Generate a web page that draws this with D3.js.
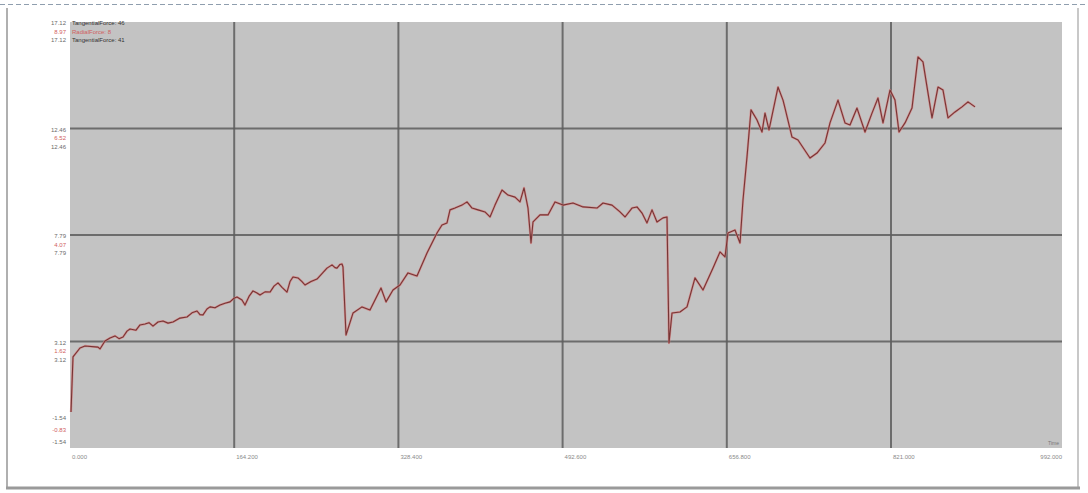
<!DOCTYPE html>
<html>
<head>
<meta charset="utf-8">
<script src="https://cdn.jsdelivr.net/npm/d3@7"></script>
<style>
  html, body { margin: 0; padding: 0; background: #fff; }
  svg { display: block; font-family: "Liberation Sans", Arial, sans-serif; }
</style>
</head>
<body>
<svg id="chart" width="1088" height="493"></svg>
<script>
// Force trace over time (seconds)
const timeValues = [1, 3, 10, 15, 28, 30, 35, 40, 45, 49, 53, 57, 60, 66, 70, 75, 79, 83, 88, 93, 98, 103, 110, 117, 122, 127, 130, 133, 137, 140, 145, 150, 155, 160, 164, 167, 172, 175, 179, 183, 187, 190, 195, 200, 204, 208, 212, 217, 220, 223, 228, 232, 235, 241, 247, 252, 257, 262, 265, 267, 270, 272, 273,
  276, 283, 292, 300, 311, 316, 323, 330, 338, 347, 357, 367, 372, 377, 380, 385, 392, 397, 402, 408, 415, 420, 425, 432, 438, 445, 450, 454, 458, 461, 463, 470, 478, 485, 493, 503, 513, 527, 533, 542, 550, 555, 562, 567, 572, 577, 582, 587, 593, 597,
  599, 602, 610, 617, 625, 633, 643, 650, 655, 658, 665, 670, 673, 677, 681, 687, 692, 695, 699, 708, 713, 715, 722, 728, 740, 747, 755, 760, 768, 775, 780, 787, 795, 802, 808, 813, 820, 825, 829, 835, 842, 848, 853, 862, 868, 873, 878, 885, 892, 898, 905];
const forceValues = [0.04, 2.45, 2.84, 2.93, 2.88, 2.80, 3.15, 3.28, 3.37, 3.25, 3.32, 3.58, 3.67, 3.62, 3.85, 3.89, 3.95, 3.80, 3.98, 4.02, 3.93, 3.98, 4.15, 4.20, 4.38, 4.46, 4.30, 4.29, 4.55, 4.64, 4.60, 4.72, 4.80, 4.86, 5.02, 5.07, 4.94, 4.72, 5.10, 5.34, 5.25, 5.16, 5.30, 5.29, 5.55, 5.69, 5.50, 5.29, 5.75, 5.95, 5.91, 5.75, 5.60, 5.75, 5.86, 6.10, 6.34, 6.48, 6.36, 6.34, 6.50, 6.52, 6.39,
  3.41, 4.37, 4.64, 4.50, 5.47, 4.86, 5.38, 5.60, 6.13, 5.99, 7.00, 7.88, 8.23, 8.32, 8.89, 8.97, 9.10, 9.24, 8.97, 8.89, 8.80, 8.58, 9.10, 9.76, 9.54, 9.45, 9.24, 9.85, 8.97, 7.44, 8.36, 8.67, 8.67, 9.24, 9.10, 9.19, 9.02, 8.97, 9.19, 9.10, 8.80, 8.58, 8.97, 9.02, 8.75, 8.32, 8.89, 8.36, 8.54, 8.58,
  3.06, 4.37, 4.42, 4.64, 5.91, 5.38, 6.34, 7.05, 6.83, 7.88, 8.01, 7.44, 9.32, 11.21, 13.27, 12.83, 12.30, 13.13, 12.39, 14.27, 13.70, 13.35, 12.08, 11.95, 11.16, 11.38, 11.82, 12.70, 13.70, 12.70, 12.61, 13.35, 12.30, 13.13, 13.79, 12.70, 14.14, 13.70, 12.30, 12.70, 13.35, 15.59, 15.37, 12.92, 14.27, 14.14, 12.92, 13.18, 13.40, 13.62, 13.40];

const legendLabels = ["TangentialForce: 46", "RadialForce: 8", "TangentialForce: 41"];
const tickValuesY = [-1.54, 3.125, 7.79, 12.455, 17.12];
const tickLabelsA = ["-1.54", "3.12", "7.79", "12.46", "17.12"];
const tickLabelsB = ["-0.83", "1.62", "4.07", "6.52", "8.97"];
const tickLabelsC = ["-1.54", "3.12", "7.79", "12.46", "17.12"];
const tickValuesX = [0, 164.2, 328.4, 492.6, 656.8, 821.0];
const tickLabelsX = ["0.000", "164.200", "328.400", "492.600", "656.800", "821.000"];
const xEndLabel = "992.000";
const xAxisTitle = "Time";

const data = timeValues.map((t, i) => ({ t, f: forceValues[i] }));

const svg = d3.select("#chart");
const plot = { left: 70, right: 1062, top: 22, bottom: 448 };

const x = d3.scaleLinear().domain([0, 992]).range([plot.left, plot.right]);
const y = d3.scaleLinear().domain([-1.54, 17.12]).range([plot.bottom, plot.top]);

// page frame
svg.append("line").attr("x1", 0).attr("x2", 1088).attr("y1", 4.5).attr("y2", 4.5)
  .attr("stroke", "#8f9eae").attr("stroke-width", 1.2).attr("stroke-dasharray", "5,3");
svg.append("line").attr("x1", 7).attr("x2", 7).attr("y1", 8).attr("y2", 488)
  .attr("stroke", "#b0b0b0").attr("stroke-width", 2);
svg.append("line").attr("x1", 1078).attr("x2", 1078).attr("y1", 8).attr("y2", 488)
  .attr("stroke", "#c8c8c8").attr("stroke-width", 2);
svg.append("line").attr("x1", 6).attr("x2", 1080).attr("y1", 488).attr("y2", 488)
  .attr("stroke", "#9a9a9a").attr("stroke-width", 3);

// plot background
svg.append("rect")
  .attr("x", plot.left).attr("y", plot.top)
  .attr("width", plot.right - plot.left).attr("height", plot.bottom - plot.top)
  .attr("fill", "#c3c3c3");

// grid
const gridY = tickValuesY.slice(1, -1);
svg.append("g").selectAll("line").data(gridY).join("line")
  .attr("x1", plot.left).attr("x2", plot.right)
  .attr("y1", d => y(d)).attr("y2", d => y(d))
  .attr("stroke", "#5e5e5e").attr("stroke-width", 2).attr("opacity", 0.85);
svg.append("g").selectAll("line").data(tickValuesX.slice(1)).join("line")
  .attr("x1", d => x(d)).attr("x2", d => x(d))
  .attr("y1", plot.top).attr("y2", plot.bottom)
  .attr("stroke", "#5e5e5e").attr("stroke-width", 2).attr("opacity", 0.85);

// y tick labels: three stacked scales per grid level
const labelSets = [
  { labels: tickLabelsA, color: "#6a6a6a" },
  { labels: tickLabelsB, color: "#d06060" },
  { labels: tickLabelsC, color: "#6a6a6a" }
];
const yLab = svg.append("g").attr("font-size", 6).attr("text-anchor", "end");
tickValuesY.forEach((v, i) => {
  const py = y(v);
  const last = i === 0;
  labelSets.forEach((s, k) => {
    const off = last ? (-28 + k * 12) : (3 + k * 8.5);
    yLab.append("text")
      .attr("x", 66).attr("y", py + off)
      .attr("fill", s.color)
      .text(s.labels[i]);
  });
});

// legend
const leg = svg.append("g").attr("font-size", 6);
legendLabels.forEach((l, k) => {
  leg.append("text")
    .attr("x", 72).attr("y", 25 + k * 8.5)
    .attr("fill", k === 1 ? "#d06060" : "#333")
    .text(l);
});

// x tick labels
const xLab = svg.append("g").attr("font-size", 6).attr("fill", "#8a8a8a");
xLab.selectAll("text").data(tickValuesX).join("text")
  .attr("x", d => x(d) + 2).attr("y", 459)
  .text((d, i) => tickLabelsX[i]);
xLab.append("text").attr("x", plot.right).attr("y", 459).attr("text-anchor", "end").text(xEndLabel);
svg.append("text").attr("x", plot.right - 3).attr("y", 445).attr("text-anchor", "end")
  .attr("font-size", 5).attr("fill", "#777").text(xAxisTitle);

// force trace: red radial trace under the darker tangential trace
const line = d3.line().x(d => x(d.t)).y(d => y(d.f));
svg.append("path").datum(data)
  .attr("d", line).attr("fill", "none")
  .attr("stroke", "#d88080").attr("stroke-width", 2.3).attr("stroke-linejoin", "round").attr("opacity", 0.75);
svg.append("path").datum(data)
  .attr("d", line).attr("fill", "none")
  .attr("stroke", "#763535").attr("stroke-width", 1.1).attr("stroke-linejoin", "round");
</script>
</body>
</html>
